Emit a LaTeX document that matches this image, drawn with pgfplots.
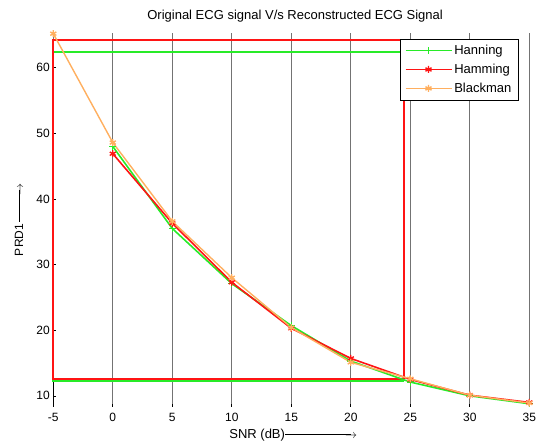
\documentclass[border=0pt]{standalone}
\usepackage{fontspec}
\setmainfont{Liberation Sans}
\usepackage{pgfplots}
\pgfplotsset{compat=1.18}
\definecolor{cgreen}{RGB}{40,235,40}
\definecolor{cred}{RGB}{255,20,20}
\definecolor{corange}{RGB}{255,175,95}
\begin{document}
\begin{tikzpicture}
\begin{axis}[name=ax, scale only axis, width=476pt, height=374pt,
  xmin=-5, xmax=35, ymin=8.3, ymax=65.3,
  xtick={-5,0,5,10,15,20}, extra x ticks={25,30,35},
  extra x tick style={grid style={black, line width=1.2pt}},
  ytick={10,20,30,40,50,60},
  xmajorgrids, major grid style={black!55, line width=1.2pt},
  axis x line*=bottom, axis y line*=left,
  axis line style={-},
  x axis line style={draw=none},
  y axis line style={draw=none},
  tick style={black, line width=0.6pt},
  major tick length=3pt,
  clip=false,
  /pgf/number format/assume math mode=true,
  ticklabel style={font=\fontsize{12}{14}\selectfont},
  xticklabel style={yshift=-2.5pt},
  title={Original ECG signal V/s Reconstructed ECG Signal},
  title style={font=\fontsize{13}{15}\selectfont, at={(axis description cs:0.508,1.028)}, anchor=center},
  xlabel={SNR (dB)\rule[0.33em]{66pt}{0.5pt}\kern-6pt$\rightarrow$},
  xlabel style={font=\fontsize{13}{15}\selectfont, at={(axis description cs:0.504,-0.076)}, anchor=center},
  ylabel={PRD1\,\rule[0.33em]{32pt}{0.5pt}\kern-6pt$\rightarrow$},
  ylabel style={font=\fontsize{12}{14}\selectfont, at={(axis description cs:-0.072,0.5)}, anchor=center},
  legend style={at={(axis cs:34.1,64.4)}, anchor=north east, fill=white, draw=black,
    font=\fontsize{13}{15}\selectfont, row sep=4pt, inner xsep=5pt, inner ysep=4pt},
  legend cell align=left,
  legend image code/.code={\draw[mark repeat=2,mark phase=2,#1] plot coordinates {(0pt,0pt) (23pt,0pt) (46pt,0pt)};},
]
% black axis stub below the red outline
\addplot[black, line width=0.8pt, forget plot] coordinates {(-5,8.3) (-5,12.55)};
% odd rectangular outlines
\addplot[cgreen, line width=2pt, forget plot] coordinates {(24.5,12.2) (-5,12.2) (-5,62.4) (24.5,62.4)};
\addplot[cred, line width=2pt, forget plot] coordinates {(24.5,12.6) (-5,12.6) (-5,64.3) (24.5,64.3) (24.5,12.6)};
% series
\addplot[cgreen, line width=1.6pt, mark=+, mark size=3.5pt, mark options={line width=1.4pt}] coordinates {
 (0,48.0) (5,35.5) (10,27.1) (15,20.7) (20,15.3) (25,12.1) (30,10.0) (35,8.8)};
\addlegendentry{Hanning}
\addplot[cred, line width=1.6pt, mark=asterisk, mark size=3.5pt, mark options={line width=1.4pt}] coordinates {
 (0,46.9) (5,36.3) (10,27.3) (15,20.3) (20,15.7) (25,12.5) (30,10.1) (35,9.0)};
\addlegendentry{Hamming}
\addplot[corange, line width=1.4pt, mark=asterisk, mark size=3.5pt, mark options={line width=1.4pt}] coordinates {
 (-5,65.2) (0,48.6) (5,36.6) (10,28.0) (15,20.4) (20,15.1) (25,12.6) (30,10.1) (35,8.9)};
\addlegendentry{Blackman}
\end{axis}
\pgfresetboundingbox
\path[use as bounding box] ([xshift=-53.3pt,yshift=-39pt]ax.south west) rectangle ++(542pt,446pt);
\end{tikzpicture}
\end{document}
